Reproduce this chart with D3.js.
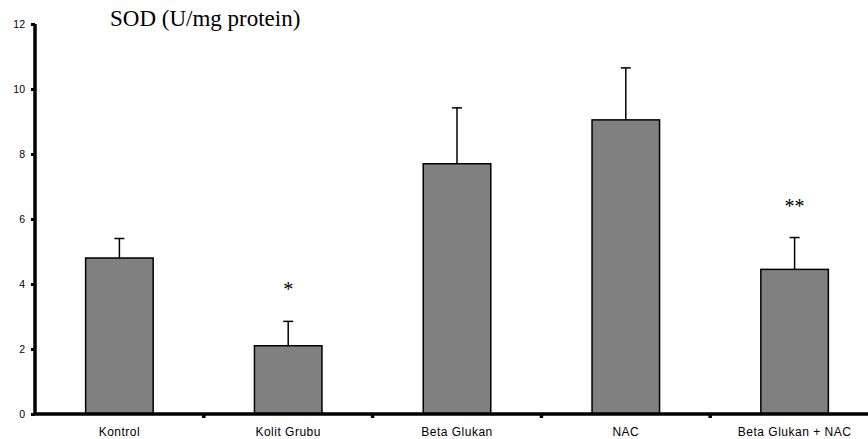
<!DOCTYPE html>
<html>
<head>
<meta charset="utf-8">
<script src="https://cdn.jsdelivr.net/npm/d3@7"></script>
<style>
  body { margin: 0; background: #fff; }
</style>
</head>
<body>
<div id="chart"></div>
<script>
// Chart data
const groups = ["Kontrol", "Kolit Grubu", "Beta Glukan", "NAC", "Beta Glukan + NAC"];
const means = [4.8, 2.1, 7.7, 9.05, 4.45];
const errors = [0.6, 0.75, 1.72, 1.6, 0.98];
const marks = ["", "*", "", "", "**"];
const yTicks = [0, 2, 4, 6, 8, 10, 12];

const width = 868;
const height = 439;
const marginLeft = 35;
const plotRight = 879; // axis runs off the right edge
const yTop = 24;
const yBottom = 414;

const svg = d3.select("#chart")
  .append("svg")
  .attr("width", width)
  .attr("height", height)
  .attr("viewBox", [0, 0, width, height]);

const x = d3.scaleBand()
  .domain(groups)
  .range([marginLeft, plotRight]);

const y = d3.scaleLinear()
  .domain([0, 12])
  .range([yBottom, yTop]);

const barW = x.bandwidth() * 0.4;

// Bars
svg.selectAll("rect.bar")
  .data(groups)
  .join("rect")
  .attr("class", "bar")
  .attr("x", d => x(d) + x.bandwidth() / 2 - barW / 2)
  .attr("y", (d, i) => y(means[i]))
  .attr("width", barW)
  .attr("height", (d, i) => y(0) - y(means[i]))
  .attr("fill", "#808080")
  .attr("stroke", "#000")
  .attr("stroke-width", 1.5);

// Error bars (upper only)
const err = svg.append("g").attr("stroke", "#000").attr("stroke-width", 1.5);
groups.forEach((g, i) => {
  const cx = x(g) + x.bandwidth() / 2;
  err.append("line")
    .attr("x1", cx).attr("x2", cx)
    .attr("y1", y(means[i])).attr("y2", y(means[i] + errors[i]));
  err.append("line")
    .attr("x1", cx - 5).attr("x2", cx + 5)
    .attr("y1", y(means[i] + errors[i])).attr("y2", y(means[i] + errors[i]));
});

// Significance marks
svg.selectAll("text.mark")
  .data(groups)
  .join("text")
  .attr("class", "mark")
  .attr("x", d => x(d) + x.bandwidth() / 2)
  .attr("y", (d, i) => y(means[i] + errors[i]) - 25)
  .attr("text-anchor", "middle")
  .style("font-family", "'Liberation Serif', 'Times New Roman', serif")
  .style("font-size", "20px")
  .text((d, i) => marks[i]);

// Y axis
const yAxis = svg.append("g")
  .attr("transform", `translate(${marginLeft},0)`)
  .call(d3.axisLeft(y).tickValues(yTicks).tickSize(4).tickPadding(6));

// X axis
const xAxis = svg.append("g")
  .attr("transform", `translate(0,${yBottom})`)
  .call(d3.axisBottom(x).tickSize(0).tickPadding(13));

// Category separator ticks
svg.selectAll("line.sep")
  .data(groups.slice(1))
  .join("line")
  .attr("class", "sep")
  .attr("x1", d => x(d)).attr("x2", d => x(d))
  .attr("y1", yBottom).attr("y2", yBottom + 4)
  .attr("stroke", "#000")
  .attr("stroke-width", 3.5);

[xAxis, yAxis].forEach(axis => {
  axis.select(".domain").attr("stroke", "#000").attr("stroke-width", 3.5);
  axis.selectAll(".tick line").attr("stroke", "#000").attr("stroke-width", 3);
  axis.selectAll(".tick text")
    .attr("fill", "#000")
    .style("font-family", "'Liberation Sans', Arial, sans-serif");
});
yAxis.selectAll(".tick text").style("font-size", "10.5px");
xAxis.selectAll(".tick text").style("font-size", "12px").style("letter-spacing", "0.5px");
yAxis.select(".domain").attr("d", `M0,${yTop}V${yBottom}`);
xAxis.select(".domain").attr("d", `M${marginLeft},0H${plotRight}`);

// Title
svg.append("text")
  .attr("x", 110)
  .attr("y", 26)
  .style("font-family", "'Liberation Serif', 'Times New Roman', serif")
  .style("font-size", "23px")
  .text("SOD (U/mg protein)");
</script>
</body>
</html>
